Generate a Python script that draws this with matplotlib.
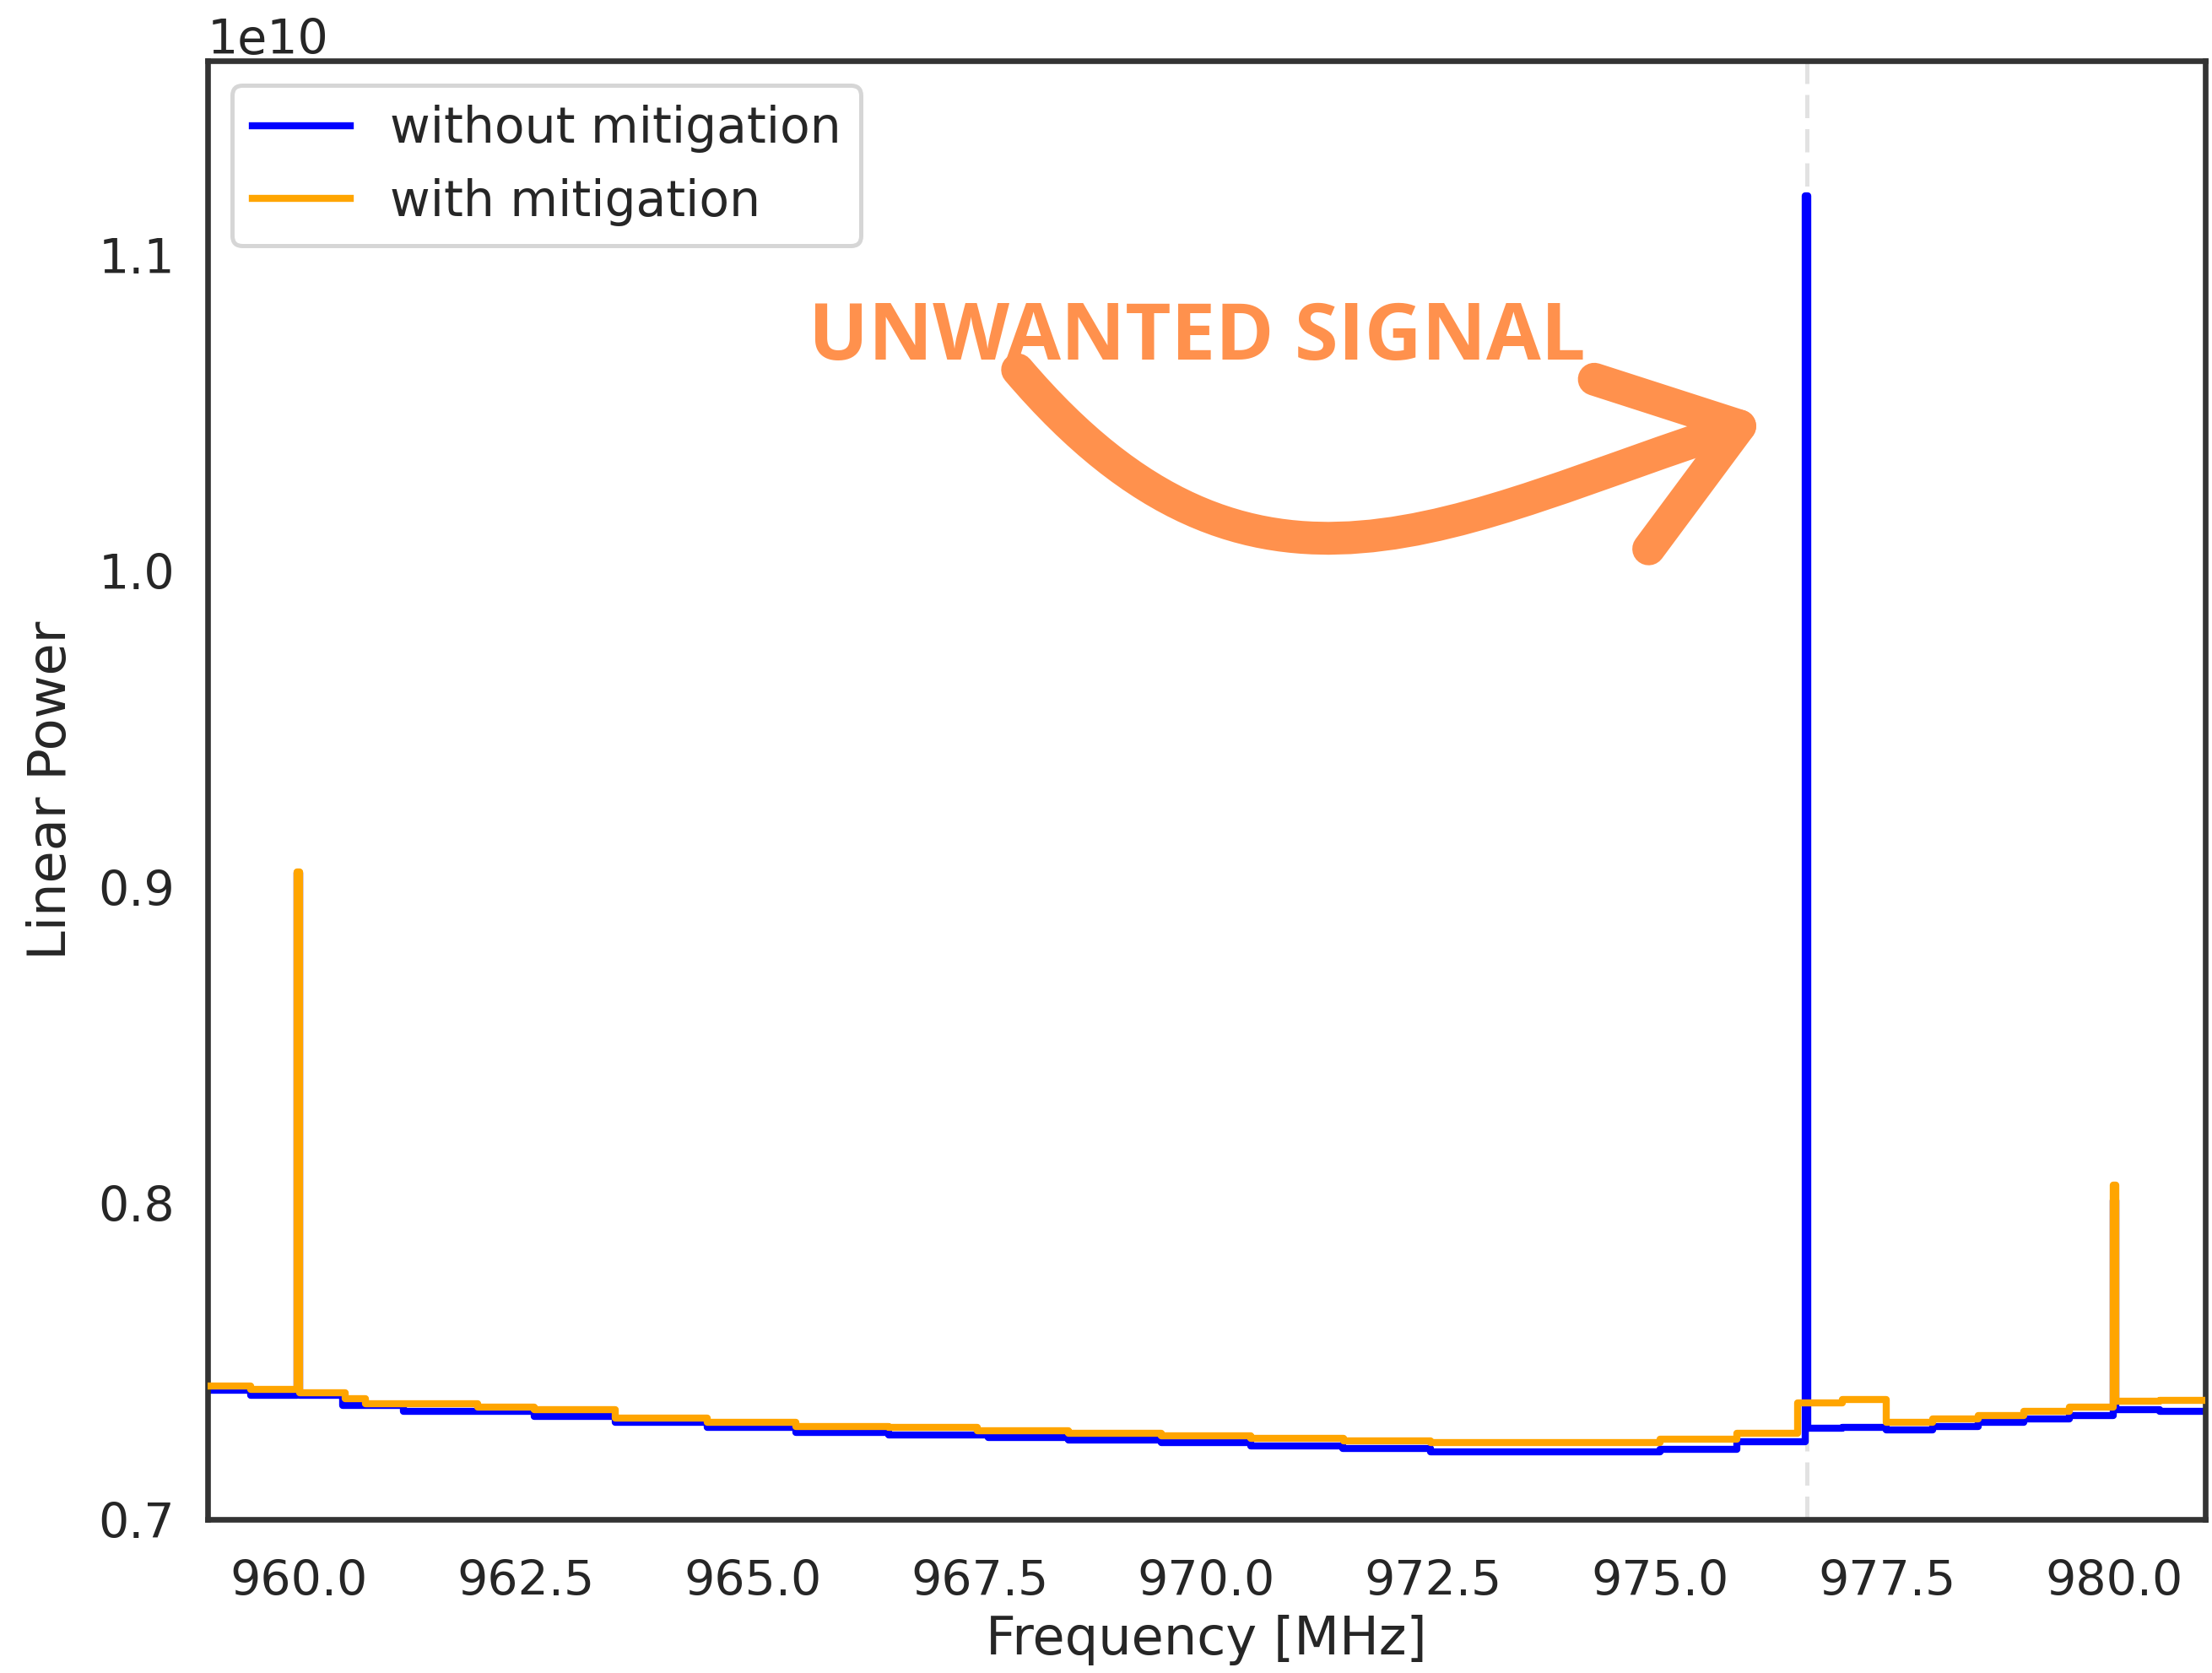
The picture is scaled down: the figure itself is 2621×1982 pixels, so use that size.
import matplotlib
matplotlib.use("Agg")
import matplotlib.pyplot as plt
import numpy as np
from matplotlib.patches import FancyArrowPatch
from matplotlib.path import Path

# spectra (power in units of 1e10), step-wise
blue_freq = [959.0, 959.47, 959.985, 960.015, 960.49, 961.16, 962.6, 963.49, 964.5, 965.48,
             966.5, 967.6, 968.48, 969.5, 970.49, 971.5, 972.47, 975.0, 975.84, 976.595,
             976.625, 977.0, 977.49, 978.0, 978.5, 979.0, 979.5, 979.985, 980.015, 980.5, 981.0]
blue_power = [0.7410, 0.7392, 0.9045, 0.7392, 0.7361, 0.7343, 0.7325, 0.7307, 0.7292, 0.7276,
              0.7267, 0.7258, 0.7250, 0.7242, 0.7233, 0.7224, 0.7214, 0.7223, 0.7245, 1.1189,
              0.7289, 0.7292, 0.7283, 0.7294, 0.7307, 0.7318, 0.7329, 0.8010, 0.7347, 0.7342, 0.7342]

orange_freq = [959.0, 959.47, 959.985, 960.015, 960.51, 960.74, 961.97, 962.6, 963.49, 964.5,
               965.48, 966.5, 967.48, 968.48, 969.5, 970.49, 971.51, 972.47, 975.0, 975.84,
               976.51, 977.0, 977.49, 978.0, 978.5, 979.0, 979.5, 979.985, 980.015, 980.5, 981.0]
orange_power = [0.7421, 0.7412, 0.9049, 0.7401, 0.7381, 0.7367, 0.7356, 0.7347, 0.7320, 0.7307,
                0.7295, 0.7291, 0.7281, 0.7273, 0.7265, 0.7256, 0.7248, 0.7242, 0.7254, 0.7272,
                0.7368, 0.7380, 0.7307, 0.7318, 0.7329, 0.7342, 0.7356, 0.8058, 0.7375, 0.7377, 0.7377]

signal_freq = 976.61
x_ticks = [960.0, 962.5, 965.0, 967.5, 970.0, 972.5, 975.0, 977.5, 980.0]
y_ticks = [0.7e10, 0.8e10, 0.9e10, 1.0e10, 1.1e10]

plt.rcParams.update({
    'font.family': 'DejaVu Sans',
    'axes.edgecolor': '.2',
    'axes.linewidth': 2.4,
    'text.color': '.15',
    'axes.labelcolor': '.15',
    'xtick.color': '.15',
    'ytick.color': '.15',
    'xtick.major.size': 0,
    'ytick.major.size': 0,
    'xtick.major.pad': 17,
    'ytick.major.pad': 14,
    'xtick.labelsize': 20.5,
    'ytick.labelsize': 20.5,
    'axes.labelsize': 22.4,
    'legend.fontsize': 21,
})

fig = plt.figure(figsize=(13.105, 9.91), dpi=200)
ax = fig.add_axes([0.0939, 0.0918, 0.903, 0.8719])

ax.axvline(signal_freq, color='#e2e2e2', lw=1.8, ls=(0, (5.5, 2.6)), zorder=1)
ax.plot(blue_freq, np.array(blue_power) * 1e10, drawstyle='steps-post', color='blue',
        lw=3, label='without mitigation', zorder=2)
ax.plot(orange_freq, np.array(orange_power) * 1e10, drawstyle='steps-post', color='orange',
        lw=3, label='with mitigation', zorder=3)

ax.set_xlim(959.0, 981.0)
ax.set_ylim(0.7e10, 1.1616e10)
ax.set_xticks(x_ticks)
ax.set_yticks(y_ticks)
ax.set_xlabel('Frequency [MHz]')
ax.set_ylabel('Linear Power', labelpad=9)

leg = ax.legend(loc='upper left', frameon=True, edgecolor='.8', fancybox=True)
leg.get_frame().set_linewidth(1.8)
for h in leg.get_lines():
    h.set_linewidth(3)

# annotation: hand-drawn style curved arrow towards the spike
ax.text(965.62, 1.067e10, 'UNWANTED SIGNAL', family='Open Sans', weight='bold',
        fontsize=33.8, color='#FF914D')
arrow_path = Path([(967.92, 1.0638e10), (970.54, 0.9755e10),
                   (972.73, 1.0170e10), (976.17, 1.0487e10)],
                  [Path.MOVETO, Path.CURVE4, Path.CURVE4, Path.CURVE4])
arr = FancyArrowPatch(path=arrow_path,
                      arrowstyle='->,head_length=0.53,head_width=0.38',
                      mutation_scale=100, lw=14, color='#FF914D',
                      capstyle='round', joinstyle='round', transform=ax.transData)
ax.add_patch(arr)

fig.savefig('out.png', dpi=200)
plt.close()
